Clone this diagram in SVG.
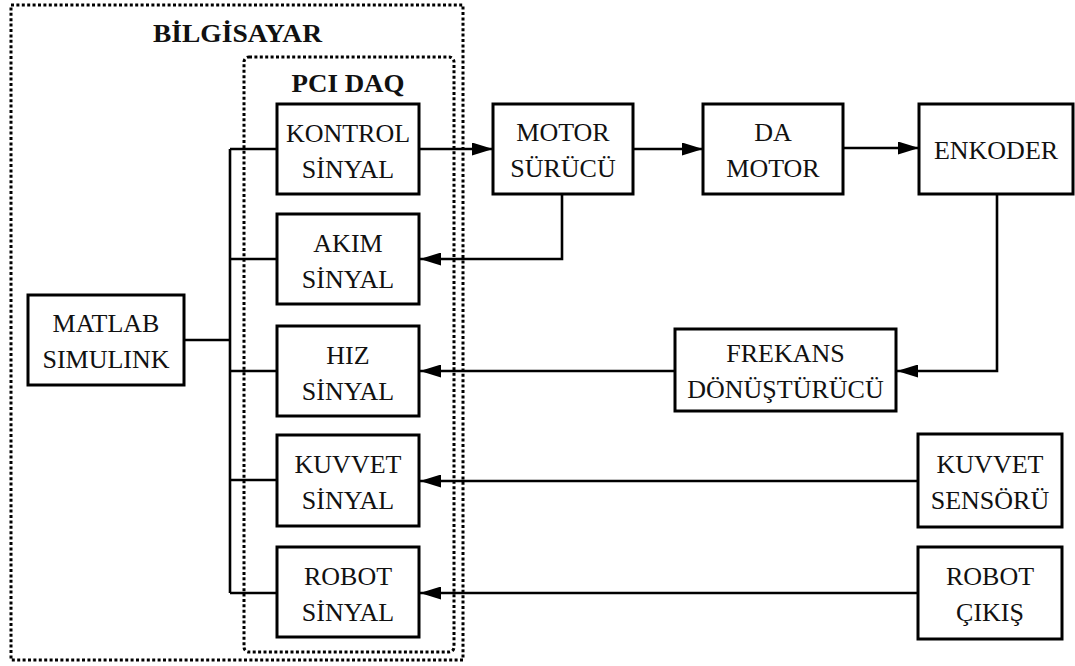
<svg xmlns="http://www.w3.org/2000/svg" width="1075" height="666" viewBox="0 0 1075 666">
<style>
.box{fill:#fff;stroke:#000;stroke-width:3}
.dot{fill:none;stroke:#000;stroke-width:3;stroke-dasharray:3 2.4}
.ln{fill:none;stroke:#000;stroke-width:2.6}
</style>
<defs>
<marker id="ah" viewBox="0 0 21 13" refX="21" refY="6.5" markerWidth="21" markerHeight="13" markerUnits="userSpaceOnUse" orient="auto">
<path d="M0,0 L21,6.5 L0,13 z" fill="#000"/>
</marker>
</defs>
<rect width="1075" height="666" fill="#fff"/>
<g font-family="Liberation Serif" font-size="26" fill="#111" text-anchor="middle">
<g id="bilgisayar">
<rect class="dot" x="11" y="5" width="452" height="655"/>
<text style="font-family:'Liberation Serif',serif" font-weight="bold" x="237.5" y="42" textLength="169" lengthAdjust="spacingAndGlyphs">BİLGİSAYAR</text>
</g>
<g id="pci-daq">
<rect class="dot" x="244" y="57" width="210" height="595" rx="5"/>
<text style="font-family:'Liberation Serif',serif" font-weight="bold" x="348" y="92" textLength="113" lengthAdjust="spacingAndGlyphs">PCI DAQ</text>
</g>
<g id="connectors">
<path class="ln" d="M184,340 H230"/>
<path class="ln" d="M230,149 V593"/>
<path class="ln" d="M230,149 H277"/>
<path class="ln" d="M230,259 H277"/>
<path class="ln" d="M230,371 H277"/>
<path class="ln" d="M230,480 H277"/>
<path class="ln" d="M230,593 H277"/>
<path class="ln" d="M419,149 H493" marker-end="url(#ah)"/>
<path class="ln" d="M633,149 H703" marker-end="url(#ah)"/>
<path class="ln" d="M843,148 H919" marker-end="url(#ah)"/>
<path class="ln" d="M562,194 V259 H420" marker-end="url(#ah)"/>
<path class="ln" d="M997,194 V371 H897" marker-end="url(#ah)"/>
<path class="ln" d="M675,371 H420" marker-end="url(#ah)"/>
<path class="ln" d="M918,481 H420" marker-end="url(#ah)"/>
<path class="ln" d="M918,593 H420" marker-end="url(#ah)"/>
</g>
<g id="matlab" style="font-family:'Liberation Serif',serif">
<rect class="box" x="28" y="295" width="156" height="90"/>
<text x="106" y="332">MATLAB</text>
<text x="106" y="368">SIMULINK</text>
</g>
<g id="kontrol" style="font-family:'Liberation Serif',serif">
<rect class="box" x="277" y="104" width="142" height="90"/>
<text x="348" y="142">KONTROL</text>
<text x="348" y="178">SİNYAL</text>
</g>
<g id="akim" style="font-family:'Liberation Serif',serif">
<rect class="box" x="277" y="214" width="142" height="90"/>
<text x="348" y="252">AKIM</text>
<text x="348" y="288">SİNYAL</text>
</g>
<g id="hiz" style="font-family:'Liberation Serif',serif">
<rect class="box" x="277" y="326" width="142" height="90"/>
<text x="348" y="364">HIZ</text>
<text x="348" y="400">SİNYAL</text>
</g>
<g id="kuvvet" style="font-family:'Liberation Serif',serif">
<rect class="box" x="277" y="435" width="142" height="91"/>
<text x="348" y="473">KUVVET</text>
<text x="348" y="509">SİNYAL</text>
</g>
<g id="robot" style="font-family:'Liberation Serif',serif">
<rect class="box" x="277" y="547" width="142" height="90"/>
<text x="348" y="585">ROBOT</text>
<text x="348" y="621">SİNYAL</text>
</g>
<g id="motor-surucu" style="font-family:'Liberation Serif',serif">
<rect class="box" x="493" y="104" width="140" height="90"/>
<text x="563" y="141">MOTOR</text>
<text x="563" y="177">SÜRÜCÜ</text>
</g>
<g id="da-motor" style="font-family:'Liberation Serif',serif">
<rect class="box" x="703" y="104" width="140" height="90"/>
<text x="773" y="141">DA</text>
<text x="773" y="177">MOTOR</text>
</g>
<g id="enkoder" style="font-family:'Liberation Serif',serif">
<rect class="box" x="919" y="104" width="154" height="90"/>
<text x="996" y="159">ENKODER</text>
</g>
<g id="frekans" style="font-family:'Liberation Serif',serif">
<rect class="box" x="675" y="329" width="221" height="82"/>
<text x="785.5" y="362">FREKANS</text>
<text x="785.5" y="398">DÖNÜŞTÜRÜCÜ</text>
</g>
<g id="kuvvet-sensoru" style="font-family:'Liberation Serif',serif">
<rect class="box" x="918" y="434" width="144" height="93"/>
<text x="990" y="473">KUVVET</text>
<text x="990" y="509">SENSÖRÜ</text>
</g>
<g id="robot-cikis" style="font-family:'Liberation Serif',serif">
<rect class="box" x="918" y="547" width="144" height="92"/>
<text x="990" y="585">ROBOT</text>
<text x="990" y="621">ÇIKIŞ</text>
</g>
</g>
</svg>
